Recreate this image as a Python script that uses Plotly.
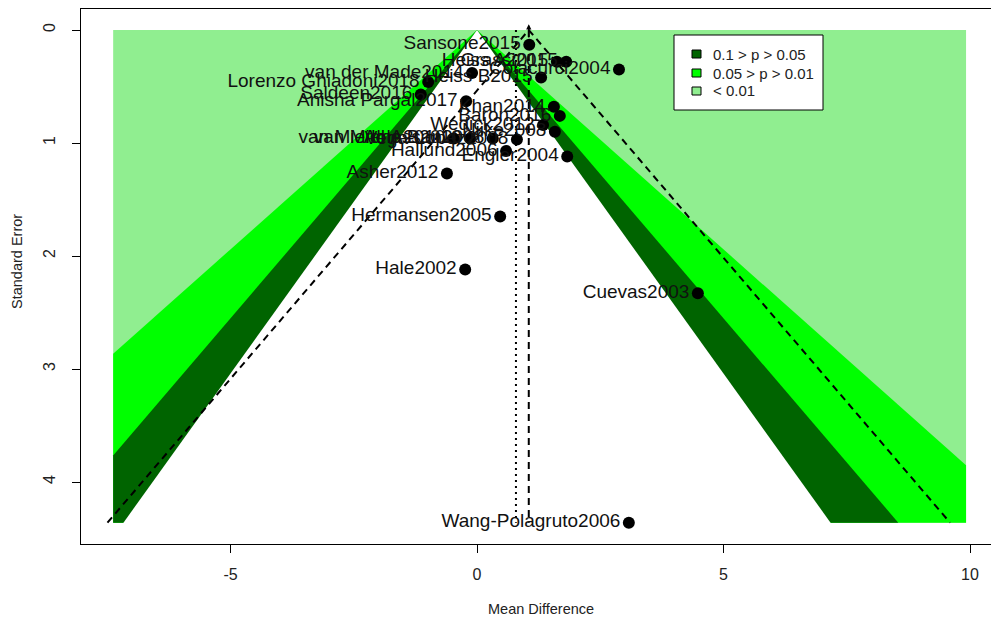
import plotly.graph_objects as go
from statistics import NormalDist

# ---------------- data ----------------
studies = [
    "Sansone2015", "Heiss A2015", "Grassi2015", "Colacurci2004", "Heiss B2015",
    "van der Made2014", "Lorenzo Ghiadoni2018", "Saldeen2016", "Anisha Pargal2017",
    "Khan2014", "Baron2016", "Wedick2012", "Njike2008",
    "van Mierlo A2010", "van Mierlo B2010", "Alhassan2008", "Vega-Lopez2008",
    "Hallund2006", "Engler2004", "Asher2012", "Hermansen2005", "Hale2002",
    "Cuevas2003", "Wang-Polagruto2006",
]
mean_diff = [
    1.06, 1.62, 1.81, 2.88, 1.30,
    -0.10, -0.99, -1.14, -0.22,
    1.56, 1.68, 1.34, 1.58,
    -0.47, -0.14, 0.32, 0.81,
    0.59, 1.83, -0.61, 0.47, -0.24,
    4.48, 3.08,
]
std_err = [
    0.13, 0.28, 0.28, 0.35, 0.42,
    0.38, 0.46, 0.57, 0.63,
    0.68, 0.76, 0.84, 0.90,
    0.96, 0.96, 0.96, 0.97,
    1.07, 1.12, 1.27, 1.65, 2.12,
    2.33, 4.36,
]

contour_p = [0.10, 0.05, 0.01]
contour_labels = ["0.1 > p > 0.05", "0.05 > p > 0.01", "< 0.01"]
contour_colors = ["#006400", "#00FF00", "#90EE90"]
pooled_estimate = 1.05
adjusted_estimate = 0.79
x_limits = [-7.38, 9.92]
x_ticks = [-5, 0, 5, 10]
y_ticks = [0, 1, 2, 3, 4]

FONT = "Liberation Sans, Arial, sans-serif"
se_max = max(std_err)
z = [NormalDist().inv_cdf(1 - p / 2) for p in contour_p]
z95 = NormalDist().inv_cdf(0.975)


def wedge(k, bottom):
    xs, ys = [0.0], [0.0]
    if k * bottom > x_limits[1]:
        xs += [x_limits[1], x_limits[1]]
        ys += [x_limits[1] / k, bottom]
    else:
        xs += [k * bottom]
        ys += [bottom]
    if k * bottom > -x_limits[0]:
        xs += [x_limits[0], x_limits[0]]
        ys += [bottom, -x_limits[0] / k]
    else:
        xs += [-k * bottom]
        ys += [bottom]
    xs.append(0.0)
    ys.append(0.0)
    return xs, ys


fig = go.Figure()

# light green background (p < 0.01)
fig.add_trace(go.Scatter(
    x=[x_limits[0], x_limits[1], x_limits[1], x_limits[0], x_limits[0]],
    y=[0, 0, se_max, se_max, 0],
    mode="lines", line=dict(width=0), fill="toself",
    fillcolor=contour_colors[2], hoverinfo="skip", showlegend=False))
# bright green (0.05 > p > 0.01)
wx, wy = wedge(z[2], se_max)
fig.add_trace(go.Scatter(x=wx, y=wy, mode="lines", line=dict(width=0),
                         fill="toself", fillcolor=contour_colors[1],
                         hoverinfo="skip", showlegend=False))
# dark green (0.1 > p > 0.05)
wx, wy = wedge(z[1], se_max)
fig.add_trace(go.Scatter(x=wx, y=wy, mode="lines", line=dict(width=0),
                         fill="toself", fillcolor=contour_colors[0],
                         hoverinfo="skip", showlegend=False))
# white (p > 0.1); run a hair past the bottom so no seam shows
wx, wy = wedge(z[0], se_max * 1.005)
fig.add_trace(go.Scatter(x=wx, y=wy, mode="lines", line=dict(width=0),
                         fill="toself", fillcolor="white",
                         hoverinfo="skip", showlegend=False))

# pseudo-confidence funnel around pooled estimate
fig.add_trace(go.Scatter(
    x=[pooled_estimate - z95 * se_max, pooled_estimate, pooled_estimate + z95 * se_max],
    y=[se_max, 0, se_max], mode="lines",
    line=dict(color="black", width=2, dash="7px,5px"),
    hoverinfo="skip", showlegend=False))
fig.add_trace(go.Scatter(
    x=[pooled_estimate, pooled_estimate], y=[0, se_max], mode="lines",
    line=dict(color="black", width=2, dash="7px,5px"),
    hoverinfo="skip", showlegend=False))
fig.add_trace(go.Scatter(
    x=[adjusted_estimate, adjusted_estimate], y=[0, se_max], mode="lines",
    line=dict(color="black", width=2, dash="2px,4px"),
    hoverinfo="skip", showlegend=False))

# studies
fig.add_trace(go.Scatter(
    x=mean_diff, y=std_err, mode="markers+text", text=studies,
    textposition="middle left",
    textfont=dict(family=FONT, size=19, color="#111111"),
    marker=dict(color="black", size=12),
    cliponaxis=False, showlegend=False, hoverinfo="skip"))

# arrow at the top of the pooled line
fig.add_annotation(x=pooled_estimate, y=-0.05, ax=pooled_estimate, ay=0.08,
                   xref="x", yref="y", axref="x", ayref="y", text="",
                   showarrow=True, arrowhead=2, arrowsize=0.8, arrowwidth=1.3,
                   arrowcolor="black")

# ---------------- legend (drawn manually) ----------------
PL, PR, PT, PB = 81, 991, 9, 544


def px(xp):
    return (xp - PL) / (PR - PL)


def py(yp):
    return (PB - yp) / (PB - PT)


fig.add_shape(type="rect", xref="paper", yref="paper",
              x0=px(674), x1=px(823), y0=py(110), y1=py(35),
              line=dict(color="black", width=1), fillcolor="white", layer="above")
legend_rows = [54, 73, 91]
for lab, col, yy in zip(contour_labels, contour_colors, legend_rows):
    fig.add_shape(type="rect", xref="paper", yref="paper",
                  x0=px(692), x1=px(701), y0=py(yy + 4), y1=py(yy - 4),
                  line=dict(color="black", width=1), fillcolor=col, layer="above")
    fig.add_annotation(x=px(711), y=py(yy), xref="paper", yref="paper",
                       text=lab, showarrow=False, xanchor="left", yanchor="middle",
                       font=dict(family=FONT, size=15, color="#222222"))

# axis titles
fig.add_annotation(x=px(541), y=py(609), xref="paper", yref="paper",
                   text="Mean Difference", showarrow=False,
                   xanchor="center", yanchor="middle",
                   font=dict(family=FONT, size=14.5, color="#222222"))
fig.add_annotation(x=px(17), y=py(262), xref="paper", yref="paper",
                   text="Standard Error", showarrow=False, textangle=-90,
                   xanchor="center", yanchor="middle",
                   font=dict(family=FONT, size=14.5, color="#222222"))

fig.update_layout(
    width=991, height=621,
    margin=dict(l=PL, r=991 - PR, t=PT, b=621 - PB, autoexpand=False),
    paper_bgcolor="white", plot_bgcolor="white",
    showlegend=False,
    font=dict(family=FONT, color="#222222"),
)
fig.update_xaxes(
    range=[(PL - 477) / 49.3, (PR - 477) / 49.3],
    tickvals=x_ticks, ticktext=[str(v) for v in x_ticks],
    ticks="outside", ticklen=8, tickcolor="black", tickwidth=1,
    showline=True, linecolor="black", linewidth=1, mirror=True,
    showgrid=False, zeroline=False, automargin=False,
    tickfont=dict(family=FONT, size=16, color="#222222"),
    ticklabelstandoff=8,
)
fig.update_yaxes(
    range=[(PB - 30) / 113.0, (PT - 30) / 113.0],
    tickvals=y_ticks, ticktext=[str(v) for v in y_ticks],
    tickangle=-90,
    ticks="outside", ticklen=8, tickcolor="black", tickwidth=1,
    showline=True, linecolor="black", linewidth=1, mirror=False,
    showgrid=False, zeroline=False, automargin=False,
    tickfont=dict(family=FONT, size=16, color="#222222"),
    ticklabelstandoff=11,
)

fig.write_html(
    "out.html",
    config={"displayModeBar": False},
    post_script="document.body.style.margin='0';document.body.style.overflow='hidden';",
)
